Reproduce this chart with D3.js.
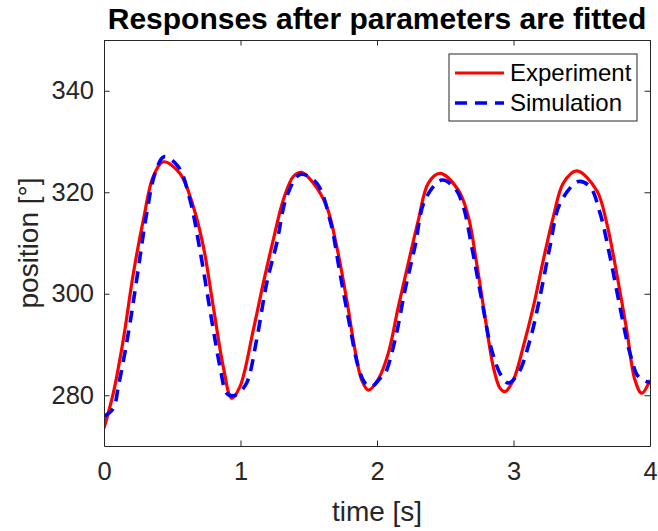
<!DOCTYPE html>
<html>
<head>
<meta charset="utf-8">
<script src="https://cdn.jsdelivr.net/npm/d3@7"></script>
<style>
  html, body { margin: 0; padding: 0; background: #fff; }
  svg { display: block; font-family: Arial, "Liberation Sans", Helvetica, sans-serif; }
</style>
</head>
<body>
<svg id="chart" width="658" height="531"></svg>
<script>
// ---- data ----
const titleText = "Responses after parameters are fitted";
const xLabel = "time [s]";
const yLabel = "position [°]";
const seriesNames = ["Experiment", "Simulation"];
const xTicks = [0, 1, 2, 3, 4];
const yTicks = [280, 300, 320, 340];

const expTime = [0, 0.068, 0.141, 0.215, 0.288, 0.361, 0.435, 0.557, 0.654, 0.728, 0.801, 0.874, 0.935,
  0.996, 1.094, 1.167, 1.24, 1.314, 1.387, 1.448, 1.533, 1.631, 1.705, 1.778, 1.839, 1.888, 1.937,
  2.01, 2.083, 2.156, 2.229, 2.303, 2.376, 2.462, 2.596, 2.669, 2.73, 2.791, 2.852, 2.901, 2.938,
  2.999, 3.072, 3.145, 3.218, 3.292, 3.365, 3.463, 3.609, 3.683, 3.756, 3.829, 3.89, 3.939, 4.0];
const expPos = [273.5, 280.4, 290.9, 304.0, 314.5, 323.1, 326.0, 323.7, 317.2, 309.3, 297.4, 285.6, 279.4,
  281.7, 292.9, 302.1, 310.6, 318.5, 323.1, 323.9, 321.8, 317.2, 309.3, 298.8, 288.9, 283.0, 281.0,
  283.2, 288.3, 297.4, 306.0, 314.5, 321.8, 323.7, 320.4, 315.2, 306.0, 295.5, 285.6, 281.4, 280.7,
  283.0, 289.6, 297.4, 306.6, 315.2, 321.8, 324.2, 320.4, 313.9, 304.0, 292.9, 283.0, 280.4, 283.0];

const simTime = [0, 0.068, 0.105, 0.178, 0.239, 0.313, 0.374, 0.44, 0.545, 0.63, 0.703, 0.789, 0.85, 0.899,
  0.947, 0.984, 1.045, 1.118, 1.192, 1.265, 1.338, 1.436, 1.558, 1.656, 1.729, 1.802, 1.863, 1.912,
  1.961, 2.022, 2.059, 2.132, 2.205, 2.278, 2.352, 2.474, 2.571, 2.632, 2.694, 2.767, 2.84, 2.913,
  2.962, 3.035, 3.121, 3.194, 3.267, 3.341, 3.475, 3.56, 3.634, 3.707, 3.78, 3.853, 3.914, 3.975, 4.0];
const simPos = [275.8, 277.4, 281.7, 292.2, 302.7, 315.9, 323.7, 327.0, 325.0, 318.5, 308.6, 294.8, 285.6, 280.4,
  279.9, 280.4, 282.4, 290.9, 302.1, 309.9, 319.1, 323.5, 321.8, 314.5, 304.0, 293.5, 285.6, 282.4,
  281.7, 283.3, 284.3, 290.9, 300.7, 309.3, 318.5, 322.4, 320.8, 317.2, 309.3, 298.8, 288.9, 283.7,
  282.4, 284.3, 290.9, 299.4, 309.3, 317.8, 322.1, 321.1, 315.9, 307.3, 297.4, 288.3, 283.7, 282.7, 282.5];

// ---- layout ----
const W = 658, H = 531;
const m = { left: 104, right: 8, top: 40, bottom: 85 };
const pw = W - m.left - m.right, ph = H - m.top - m.bottom;
const axisColor = "#262626";

const svg = d3.select("#chart");
const g = svg.append("g").attr("transform", `translate(${m.left},${m.top})`);

const x = d3.scaleLinear().domain([0, 4]).range([0, pw]);
const y = d3.scaleLinear().domain([270, 350]).range([ph, 0]);

// background
g.append("rect").attr("width", pw).attr("height", ph).attr("fill", "#fff");

// clip
svg.append("defs").append("clipPath").attr("id", "clip")
  .append("rect").attr("width", pw).attr("height", ph);

// series
const expData = expTime.map((t, i) => [t, expPos[i]]);
const simData = simTime.map((t, i) => [t, simPos[i]]);
const line = d3.line().x(d => x(d[0])).y(d => y(d[1])).curve(d3.curveCatmullRom.alpha(0.5));

const plot = g.append("g").attr("clip-path", "url(#clip)");
plot.append("path").datum(expData).attr("d", line)
  .attr("fill", "none").attr("stroke", "#ff0000").attr("stroke-width", 3.2)
  .attr("stroke-linejoin", "round");
plot.append("path").datum(simData).attr("d", line)
  .attr("fill", "none").attr("stroke", "#0000ff").attr("stroke-width", 3.6)
  .attr("stroke-dasharray", "12,8");

// axes
const tickLen = 5.5;
const xAxisB = d3.axisBottom(x).tickValues(xTicks).tickSizeInner(-tickLen).tickSizeOuter(0).tickPadding(16).tickFormat(d3.format("d"));
const xAxisT = d3.axisTop(x).tickValues(xTicks).tickSizeInner(-tickLen).tickSizeOuter(0).tickFormat("");
const yAxisL = d3.axisLeft(y).tickValues(yTicks).tickSizeInner(-tickLen).tickSizeOuter(0).tickPadding(10).tickFormat(d3.format("d"));
const yAxisR = d3.axisRight(y).tickValues(yTicks).tickSizeInner(-tickLen).tickSizeOuter(0).tickFormat("");

function styleAxis(sel) {
  sel.selectAll("path.domain").attr("stroke", axisColor).attr("stroke-width", 1);
  sel.selectAll(".tick line").attr("stroke", axisColor).attr("stroke-width", 1);
  sel.selectAll(".tick text").attr("fill", axisColor)
    .style("font-size", "25.5px").style("font-family", "Arial, 'Liberation Sans', sans-serif");
}
g.append("g").attr("transform", `translate(0,${ph})`).call(xAxisB).call(styleAxis);
g.append("g").call(xAxisT).call(styleAxis);
g.append("g").call(yAxisL).call(styleAxis);
g.append("g").attr("transform", `translate(${pw},0)`).call(yAxisR).call(styleAxis);

// title
svg.append("text").attr("x", m.left + pw / 2).attr("y", 29)
  .attr("text-anchor", "middle").attr("fill", "#000")
  .style("font-size", "30px").style("font-weight", "bold")
  .text(titleText);

// x label
svg.append("text").attr("x", m.left + pw / 2).attr("y", 521)
  .attr("text-anchor", "middle").attr("fill", axisColor)
  .style("font-size", "28px").text(xLabel);

// y label
svg.append("text")
  .attr("transform", `translate(38,${m.top + ph / 2}) rotate(-90)`)
  .attr("text-anchor", "middle").attr("fill", axisColor)
  .style("font-size", "28px").text(yLabel);

// legend
const lg = svg.append("g").attr("transform", "translate(449,54)");
lg.append("rect").attr("width", 188).attr("height", 67)
  .attr("fill", "#fff").attr("stroke", axisColor).attr("stroke-width", 1);
const rows = [
  { name: seriesNames[0], color: "#ff0000", dash: null, w: 3.2, yy: 19 },
  { name: seriesNames[1], color: "#0000ff", dash: "12,8", w: 3.6, yy: 49 }
];
rows.forEach(r => {
  const ln = lg.append("line").attr("x1", 6).attr("x2", 55).attr("y1", r.yy).attr("y2", r.yy)
    .attr("stroke", r.color).attr("stroke-width", r.w);
  if (r.dash) ln.attr("stroke-dasharray", r.dash);
  lg.append("text").attr("x", 61).attr("y", r.yy).attr("dy", "0.35em")
    .attr("fill", "#000").style("font-size", "24px").text(r.name);
});
</script>
</body>
</html>
